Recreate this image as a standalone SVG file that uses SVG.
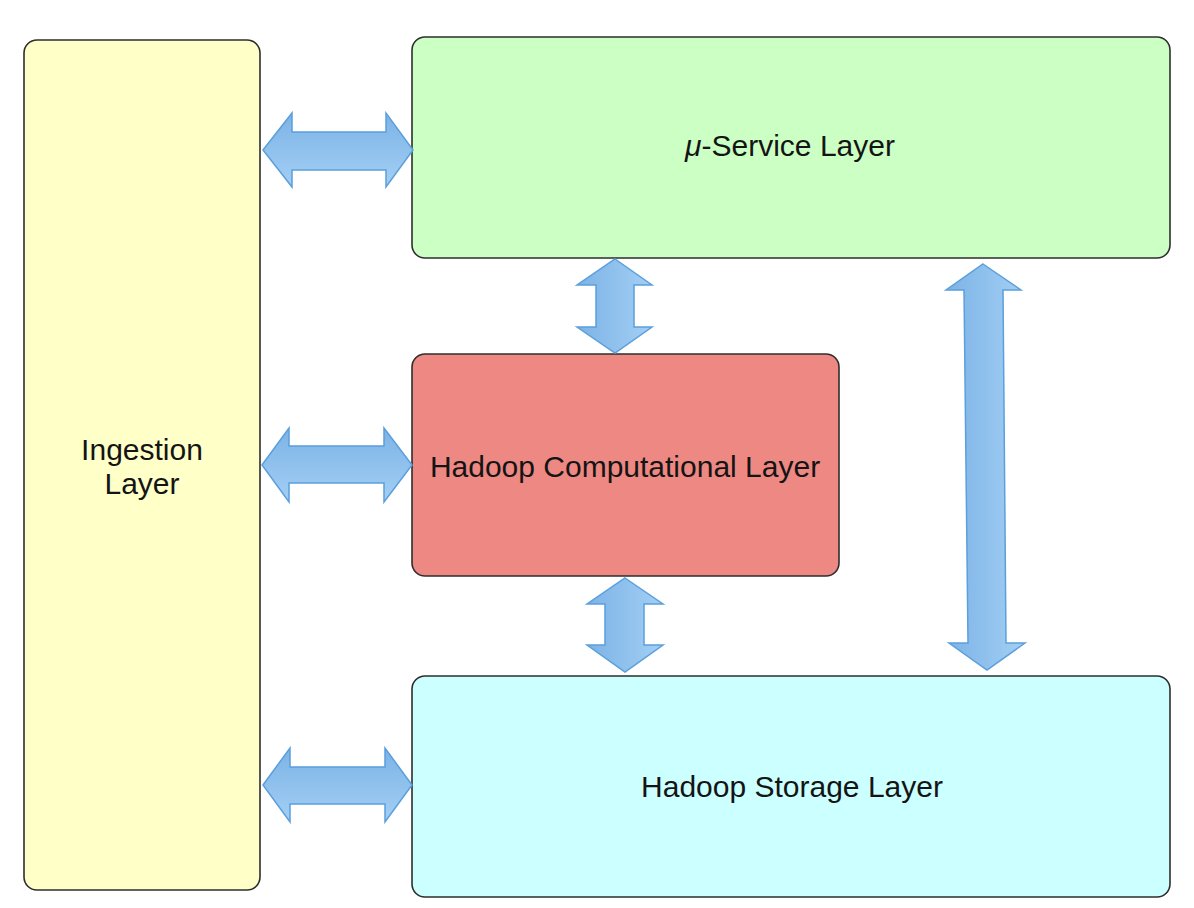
<svg xmlns="http://www.w3.org/2000/svg" width="1194" height="908" viewBox="0 0 1194 908">
<style>
.box{stroke:#2e2e2e;stroke-width:1.6}
.lbl{font-family:"Liberation Sans",Arial,sans-serif;font-size:30px;fill:#141414;text-anchor:middle}
.arr{stroke:#5b9fdc;stroke-width:1.5;stroke-linejoin:miter}
</style>
<defs>
<linearGradient id="gv" x1="0" y1="0" x2="0" y2="1"><stop offset="0" stop-color="#7cb3e6"/><stop offset="1" stop-color="#a3cff4"/></linearGradient>
<linearGradient id="gh" x1="0" y1="0" x2="1" y2="0"><stop offset="0" stop-color="#7cb3e6"/><stop offset="1" stop-color="#a3cff4"/></linearGradient>
</defs>
<rect width="1194" height="908" fill="#fff"/>
<g id="ingestion">
<rect class="box" x="24" y="40" width="236" height="850" rx="13" fill="#ffffc8"/>
<text class="lbl" x="142" y="460">Ingestion</text>
<text class="lbl" x="142" y="494">Layer</text>
</g>
<g id="service">
<rect class="box" x="412" y="37" width="758" height="221" rx="13" fill="#ccffc4"/>
<text class="lbl" x="790" y="156"><tspan font-style="italic">μ</tspan>-Service Layer</text>
</g>
<g id="computational">
<rect class="box" x="412" y="354" width="427" height="222" rx="13" fill="#ee8883"/>
<text class="lbl" x="625" y="477">Hadoop Computational Layer</text>
</g>
<g id="storage">
<rect class="box" x="412" y="676" width="758" height="221" rx="13" fill="#ccffff"/>
<text class="lbl" x="792" y="797">Hadoop Storage Layer</text>
</g>
<g id="connectors">
<polygon class="arr" fill="url(#gv)" points="263,150 292,113 292,132 386,132 386,113 413,150 386,187 386,170 292,170 292,187"/>
<polygon class="arr" fill="url(#gv)" points="262,465 289,428 289,446 384,446 384,428 412,465 384,502 384,483 289,483 289,502"/>
<polygon class="arr" fill="url(#gv)" points="263,785 290,748 290,767 385,767 385,748 412,785 385,822 385,804 290,804 290,822"/>
<polygon class="arr" fill="url(#gh)" points="615,259 652,285 634,285 634,327 652,327 615,353 577,327 596,327 596,285 577,285"/>
<polygon class="arr" fill="url(#gh)" points="625,578 663,604 644,604 644,645 663,645 625,672 587,645 605,645 605,604 587,604"/>
<polygon class="arr" fill="url(#gh)" points="983,264 1021,290 1003,290 1006,643 1025,643 987,670 949,643 968,643 964,290 946,290"/>
</g>
</svg>
